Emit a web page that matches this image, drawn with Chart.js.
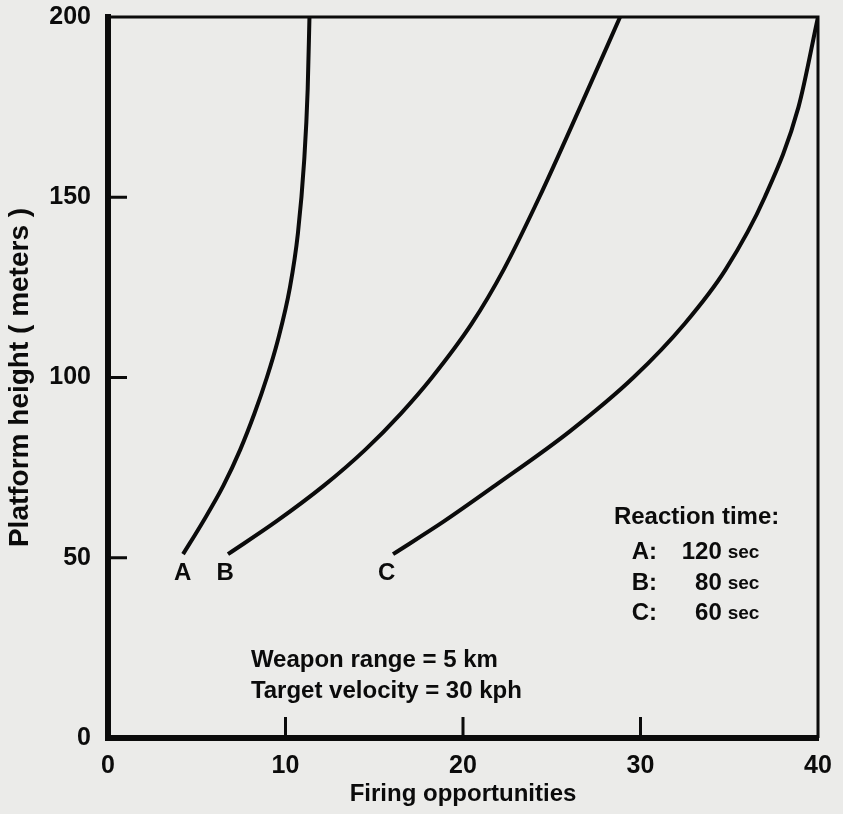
<!DOCTYPE html>
<html>
<head>
<meta charset="utf-8">
<script src="https://cdn.jsdelivr.net/npm/chart.js@4.4.1/dist/chart.umd.min.js"></script>
<style>
  html, body { margin: 0; padding: 0; background: #ebebe9; }
  #wrap { width: 843px; height: 814px; }
</style>
</head>
<body>
<div id="wrap"><canvas id="grafico" width="843" height="814"></canvas></div>
<script>
// eixos
const xTicks = [0, 10, 20, 30, 40];
const yTicks = [0, 50, 100, 150, 200];

// curva A (120 s)
const firingA = [4.23, 5.35, 6.5, 7.45, 8.25, 8.95, 9.55, 10.25, 10.7, 11.05, 11.25, 11.35];
const heightA = [51, 60, 70, 80, 90, 100, 110, 125, 140, 160, 180, 200];

// curva B (80 s)
const firingB = [6.76, 9.46, 12.16, 14.5, 16.5, 18.25, 20.5, 22.3, 24.3, 26.6, 28.85];
const heightB = [51, 60, 70, 80, 90, 100, 115, 130, 150, 175, 200];

// curva C (60 s)
const firingC = [16.06, 18.9, 21.8, 26.0, 29.6, 32.5, 34.8, 37.0, 38.9, 40];
const heightC = [51, 60, 70, 85, 100, 115, 130, 150, 175, 200];

const curveNames = ['A', 'B', 'C'];
const reactionTimes = ['120', '80', '60'];
const notes = ['Weapon range = 5 km', 'Target velocity = 30 kph'];

const INK = '#0b0b0b';
const FONT = '"Liberation Sans", Arial, sans-serif';

function pontos(xs, ys) {
    return xs.map((x, i) => ({ x: x, y: ys[i] }));
}

// posicoes dos textos (em unidades dos eixos)
const namePos = [[4.2, 45.8], [6.6, 45.8], [15.7, 45.8]];
const reactionPos = { left: 28.5, title: 61.3, letter: 29.5, right: 36.7, rows: [51.6, 43.0, 34.7] };
const notesPos = { left: 8.05, rows: [21.6, 12.8] };

const moldura = {
    id: 'moldura',
    afterDraw(chart) {
        const { ctx, chartArea: a, scales: { x, y } } = chart;
        ctx.save();
        ctx.strokeStyle = INK;
        ctx.fillStyle = INK;

        // topo e lado direito
        ctx.lineWidth = 3;
        ctx.beginPath();
        ctx.moveTo(a.left, a.top);
        ctx.lineTo(a.right, a.top);
        ctx.lineTo(a.right, a.bottom);
        ctx.stroke();

        // marcas para dentro
        ctx.beginPath();
        yTicks.slice(1, -1).forEach(v => {
            const py = y.getPixelForValue(v);
            ctx.moveTo(a.left, py);
            ctx.lineTo(a.left + 19, py);
        });
        xTicks.slice(1, -1).forEach(v => {
            const px = x.getPixelForValue(v);
            ctx.moveTo(px, a.bottom);
            ctx.lineTo(px, a.bottom - 21);
        });
        ctx.stroke();

        // letras das curvas
        ctx.font = 'bold 24px ' + FONT;
        ctx.textAlign = 'center';
        ctx.textBaseline = 'middle';
        curveNames.forEach((n, i) => {
            ctx.fillText(n, x.getPixelForValue(namePos[i][0]), y.getPixelForValue(namePos[i][1]));
        });

        // legenda do tempo de reacao
        ctx.textAlign = 'left';
        ctx.fillText('Reaction time:', x.getPixelForValue(reactionPos.left), y.getPixelForValue(reactionPos.title));
        const right = x.getPixelForValue(reactionPos.right);
        curveNames.forEach((n, i) => {
            const py = y.getPixelForValue(reactionPos.rows[i]);
            ctx.font = 'bold 24px ' + FONT;
            ctx.textAlign = 'left';
            ctx.fillText(n + ':', x.getPixelForValue(reactionPos.letter), py);
            ctx.font = 'bold 19px ' + FONT;
            ctx.textAlign = 'right';
            const w = ctx.measureText('sec').width;
            ctx.fillText('sec', right, py + 1);
            ctx.font = 'bold 24px ' + FONT;
            ctx.fillText(reactionTimes[i], right - w - 6, py);
        });

        // notas
        ctx.font = 'bold 24px ' + FONT;
        ctx.textAlign = 'left';
        notes.forEach((t, i) => {
            ctx.fillText(t, x.getPixelForValue(notesPos.left), y.getPixelForValue(notesPos.rows[i]));
        });
        ctx.restore();
    }
};

function serie(xs, ys) {
    return {
        data: pontos(xs, ys),
        showLine: true,
        borderColor: INK,
        borderWidth: 4,
        pointRadius: 0,
        fill: false,
        cubicInterpolationMode: 'monotone'
    };
}

const ctx = document.getElementById('grafico').getContext('2d');
const grafico = new Chart(ctx, {
    type: 'scatter',
    data: {
        datasets: [serie(firingA, heightA), serie(firingB, heightB), serie(firingC, heightC)]
    },
    options: {
        responsive: false,
        animation: false,
        devicePixelRatio: 1,
        layout: { padding: { top: 17, right: 25, bottom: 0, left: 0 } },
        scales: {
            x: {
                type: 'linear',
                min: 0,
                max: 40,
                afterFit: s => { s.height = 76; s.paddingLeft = 0; s.paddingRight = 0; },
                afterBuildTicks: s => { s.ticks = xTicks.map(v => ({ value: v })); },
                ticks: { color: INK, font: { family: FONT, size: 25, weight: 'bold' }, padding: 13, maxRotation: 0 },
                grid: { display: false, drawTicks: false },
                border: { display: true, color: INK, width: 6 },
                title: { display: true, text: 'Firing opportunities', color: INK, font: { family: FONT, size: 24, weight: 'bold' }, padding: { top: 0, bottom: 5 } }
            },
            y: {
                type: 'linear',
                min: 0,
                max: 200,
                // largura fixa e sem folga vertical extra dos rotulos
                afterFit: s => { s.width = 108; s.paddingTop = 0; s.paddingBottom = 0; },
                afterBuildTicks: s => { s.ticks = yTicks.map(v => ({ value: v })); },
                ticks: { color: INK, font: { family: FONT, size: 25, weight: 'bold' }, padding: 17 },
                grid: { display: false, drawTicks: false },
                border: { display: true, color: INK, width: 6 },
                title: { display: true, text: 'Platform height ( meters )', color: INK, font: { family: FONT, size: 28, weight: 'bold' }, padding: { top: 3, bottom: 0 } }
            }
        },
        plugins: {
            legend: { display: false },
            tooltip: { enabled: false }
        }
    },
    plugins: [moldura]
});
</script>
</body>
</html>
